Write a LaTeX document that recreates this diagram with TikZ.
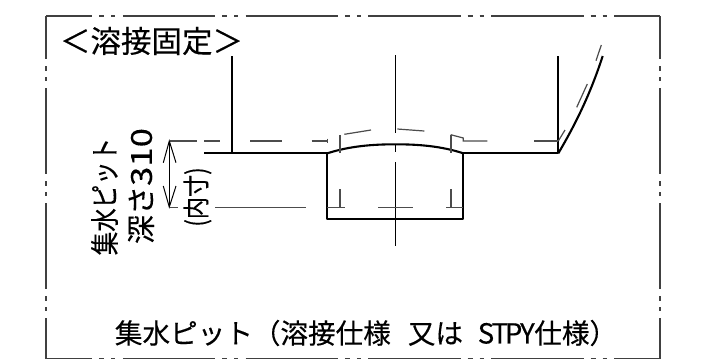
\documentclass[tikz,border=0pt]{standalone}
\usepackage{fontspec}
\newfontfamily\cjk{Noto Sans CJK JP}[FakeBold=0.25]
\newcommand{\hw}[1]{\makebox[13.8pt][c]{#1}}
\tikzset{x=1pt,y=-1pt,
 frameline/.style={draw=black!75,line width=1.2pt},
 heavy/.style={draw=black,line width=2.1pt,line join=round},
 fine/.style={draw=black!70,line width=1.2pt},
 centerl/.style={draw=black,line width=1pt},
 tip/.style={draw=black,line width=1pt},
 lab/.style={font=\cjk,inner sep=0pt,text=black}}
\begin{document}
\begin{tikzpicture}
\useasboundingbox (0,0) rectangle (708,360);
\fill[white] (0,0) rectangle (708,360);
% frame
\coordinate (tl) at (46,16);\coordinate (tr) at (660,16);\coordinate (bl) at (46,358.5);\coordinate (br) at (660,358.5);
\tikzset{hdash/.style={frameline,dash pattern=on 92.3pt off 7pt on 5pt off 7pt on 4pt off 7.5pt,dash phase=46pt}}
\draw[hdash] (tl)--(tr);
\draw[hdash] (bl)--(br);
\tikzset{vdash/.style={frameline,dash pattern=on 86pt off 7pt on 5pt off 6pt on 4pt off 7pt,dash phase=43pt}}
\draw[vdash] (tl)--(bl);
\draw[vdash] (tr)--(br);
% text
\node[lab,font=\cjk\fontsize{30.5}{30}\selectfont,anchor=center] (t1) at (151.5,41) {＜溶接固定＞};
\node[lab,font=\cjk\fontsize{27.6}{28}\selectfont,anchor=center] (t2) at (366,333) {集水ピット（溶接仕様\makebox[17pt]{}又は\makebox[16pt]{}\hw{S}\hw{T}\hw{P}\hw{Y}仕様）};
\node[lab,rotate=90,font=\cjk\fontsize{29}{29}\selectfont,xscale=.81] (t3) at (104.5,196.5) {集水ピット};
\node[lab,rotate=90,font=\cjk\fontsize{29}{29}\selectfont] (t4) at (141,186) {深さ\scalebox{1.2}[1]{310}};
\node[lab,rotate=90,font=\cjk\fontsize{27}{27}\selectfont,xscale=.82] (t5) at (197.5,197) {(内寸)};
% walls and floor
\coordinate (wl) at (232.3,56);\coordinate (wlb) at (232.3,153.3);
\coordinate (fl) at (204,153.3);
\coordinate (pl) at (327.3,153.3);\coordinate (pr) at (463.3,153.3);
\coordinate (pbl) at (327.3,219);\coordinate (pbr) at (463.3,219);
\coordinate (wr) at (558.3,56);\coordinate (wrb) at (558.3,153.3);
\coordinate (cv) at (602.7,56);
\draw[heavy] (wl)--(wlb);
\draw[heavy] (fl)--(pl);
\draw[heavy] (pl)--(pbl)--(pbr)--(pr)--(wrb)--(wr);
\draw[heavy] (pl) .. controls (350,146) and (373,144.3) .. (395.5,144.3) .. controls (418,144.3) and (441,146) .. (pr);
\draw[heavy] (wrb) .. controls (575,125) and (590,95) .. (cv);
% centre line
\coordinate (c0) at (395.3,55);
\draw[centerl] (c0)--(395.3,133);
\draw[centerl] (395.3,145)--(395.3,152);
\draw[centerl] (395.3,162)--(395.3,245.7);
% hidden lines
\draw[fine] (170,141)--(197,141);
\draw[fine] (204,141)--(220,141);
\draw[fine] (250,141)--(282,141);
\draw[fine] (311.7,141)--(327.3,141);
\draw[fine] (327.3,138.5)--(327.3,143);
\draw[fine] (344.3,134.3)--(371,130);
\draw[fine] (397.3,129)--(424.3,131);
\draw[fine] (450.7,134.7)--(463.3,138)--(463.3,141)--(487.3,141);
\draw[fine] (340,135)--(340,153);
\draw[fine] (340,189.3)--(340,207.3);
\draw[fine] (451,134.7)--(451,153);
\draw[fine] (451,189.3)--(451,207.3);
\draw[fine] (170,207.3)--(178,207.3);
\draw[fine] (215,207.3)--(306,207.3);
\draw[fine] (327.3,207.3)--(345,207.3);
\draw[fine] (378,207.3)--(412.7,207.3);
\draw[fine] (446,207.3)--(463.3,207.3);
\draw[fine] (534,141)--(558.3,141);
\draw[fine] (558.3,141)--(565,130);
\draw[fine] (576.7,107.3)--(587.3,84);
\draw[fine] (596,60.7)--(601.3,45);
% dimension arrow
\coordinate (da) at (169.3,141);\coordinate (db) at (169.3,207);
\draw[tip] (da)--(db);
\draw[tip] (163.3,162.7)--(da)--(176,162.7);
\draw[tip] (163.3,186)--(db)--(176,186);
\end{tikzpicture}
\end{document}
